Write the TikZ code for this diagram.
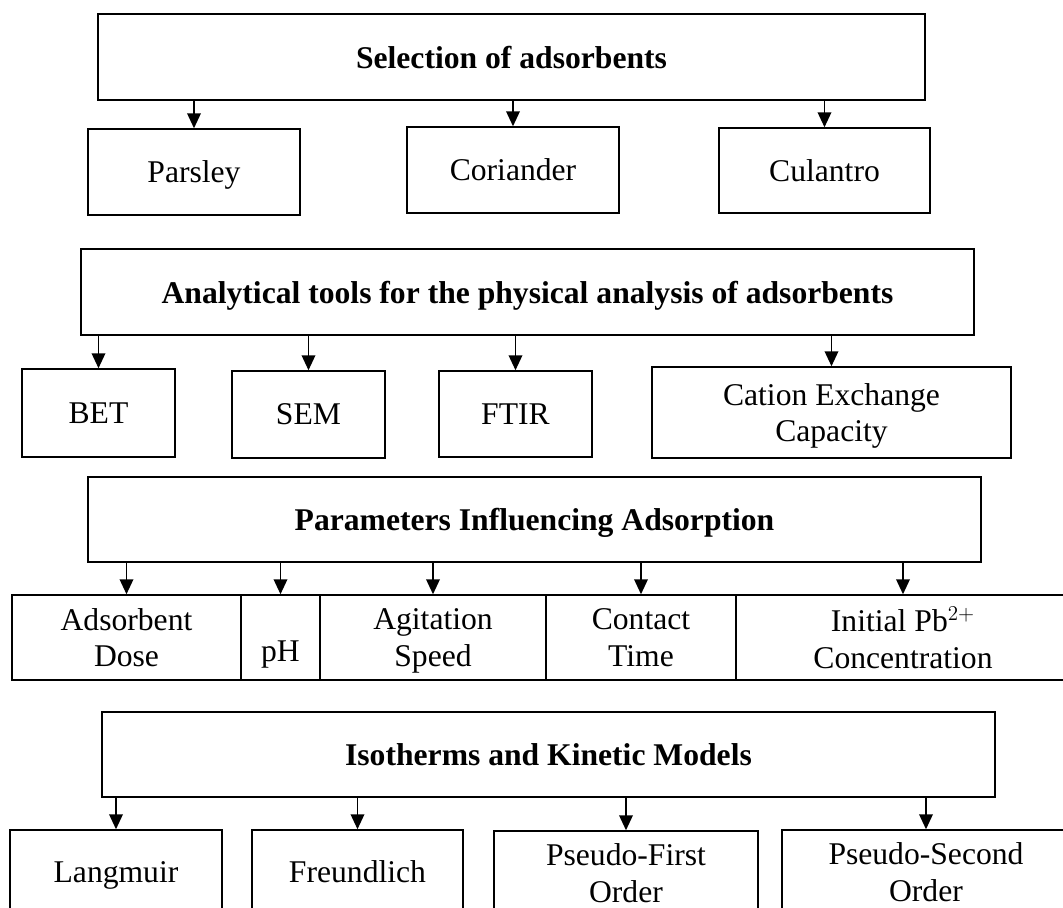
\documentclass[tikz,border=0pt]{standalone}
\usepackage{fontspec}
\setmainfont{Liberation Serif}
\usetikzlibrary{positioning,shapes,arrows.meta}

\begin{document}
\begin{tikzpicture}
            [x=0.02cm,y=-0.02cm,
             every node/.style={draw, rectangle, line width=0.8pt, inner sep=0pt, align=center,
                                text depth=0pt, font=\fontsize{18}{21}\selectfont},
             size/.style 2 args={minimum width=#1*0.02cm, minimum height=#2*0.02cm},
             head/.style={font=\fontsize{18}{21}\selectfont\bfseries},
             arr/.style={line width=1.1pt, -{Triangle[length=0.3cm,width=0.27cm]}}]
          \clip (0,0) rectangle (1063,908);
          \fill[white] (0,0) rectangle (1063,908);

          % selection
          \node[head, size={827}{86}] (sel) at (511.5,57) {Selection of adsorbents};
          \node[size={212}{86}] (parsley) at (194,172) {Parsley};
          \node[size={212}{86}] (coriander) at (513,170) {Coriander};
          \node[size={211}{85}] (culantro) at (824.5,170.5) {Culantro};

          % analysis
          \node[head, size={893}{86}] (tools) at (527.5,292) {Analytical tools for the physical analysis of adsorbents};
          \node[size={153}{88}] (bet) at (98.5,413) {BET};
          \node[size={153}{87}] (sem) at (308.5,414.5) {SEM};
          \node[size={153}{86}] (ftir) at (515.5,414) {FTIR};
          \node[size={359}{91}] (cec) at (831.5,412.5) {Cation Exchange\\Capacity};

          % parameters
          \node[head, size={893}{85}] (params) at (534.5,519.5) {Parameters Influencing Adsorption};
          \node[size={229}{85}] (dose) at (126.5,637.5) {Adsorbent\\Dose};
          \node[size={79}{85}] (ph) at (280.5,637.5) {\raisebox{-0.48cm}[0pt][0pt]{pH}};
          \node[size={226}{85}] (speed) at (433,637.5) {Agitation\\Speed};
          \node[size={190}{85}] (time) at (641,637.5) {Contact\\Time};
          \node[size={334}{85}] (conc) at (903,637.5) {Initial Pb$^{2+}$\\Concentration};

          % models
          \node[head, size={893}{85}] (models) at (548.5,754.5) {Isotherms and Kinetic Models};
          \node[size={212}{84}] (langmuir) at (116,872) {Langmuir};
          \node[size={211}{84}] (freundlich) at (357.5,872) {Freundlich};
          \node[size={264}{84}] (pfo) at (626,873) {Pseudo-First\\Order};
          \node[size={288}{84}] (pso) at (926,872) {Pseudo-Second\\Order};

          \foreach \from/\to in {sel/parsley, sel/coriander, sel/culantro,
                                 tools/bet, tools/sem, tools/ftir, tools/cec,
                                 params/dose, params/ph, params/speed, params/time, params/conc,
                                 models/langmuir, models/freundlich, models/pfo, models/pso}
            \draw[arr] (\from.south -| \to.north) -- (\to.north);
        \end{tikzpicture}
\end{document}
